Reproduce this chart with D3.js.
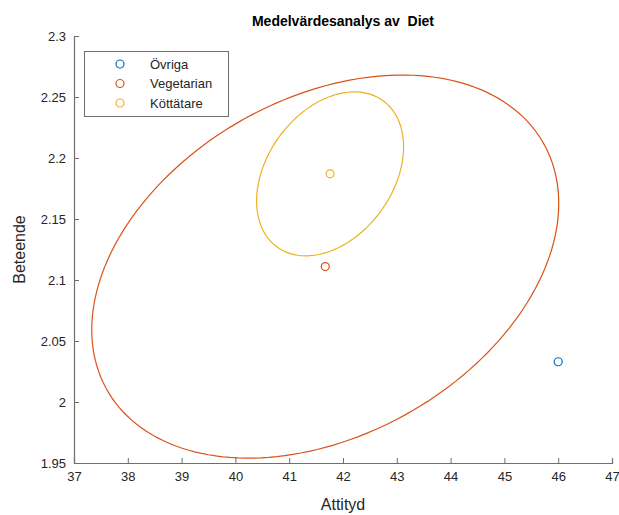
<!DOCTYPE html>
<html>
<head>
<meta charset="utf-8">
<script src="https://cdn.jsdelivr.net/npm/d3@7"></script>
<style>
body { margin: 0; background: #fff; }
text { font-family: "Liberation Sans", Arial, Helvetica, sans-serif; }
</style>
</head>
<body>
<svg id="chart" width="619" height="515"></svg>
<script>
// Data
const groups = ["Övriga", "Vegetarian", "Köttätare"];
const colors = ["#0072BD", "#D95319", "#EDB120"];
const meanAttityd = [46.0, 41.67, 41.76];
const meanBeteende = [2.033, 2.111, 2.187];
// ellipse half-extents (data units) and correlation-phase; null = no ellipse
const ellRx = [null, 4.34, 1.366];
const ellRy = [null, 0.157, 0.0672];
const ellRho = [null, 0.33, 0.33];
const xTicks = [37, 38, 39, 40, 41, 42, 43, 44, 45, 46, 47];
const yTicks = [1.95, 2, 2.05, 2.1, 2.15, 2.2, 2.25, 2.3];

const svg = d3.select("#chart");
const L = 74, R = 612, T = 36, B = 463;
const x = d3.scaleLinear().domain([37, 47]).range([L, R]);
const y = d3.scaleLinear().domain([1.95, 2.3]).range([B, T]);
const axisColor = "#6e6e6e";
const textColor = "#262626";

// axes
const gx = svg.append("g").attr("transform", `translate(0,${B})`)
  .call(d3.axisBottom(x).tickValues(xTicks).tickSize(-5).tickPadding(9).tickFormat(d3.format("d")));
const gy = svg.append("g").attr("transform", `translate(${L},0)`)
  .call(d3.axisLeft(y).tickValues(yTicks).tickSize(-5).tickPadding(8).tickFormat(d => String(+d.toFixed(2))));
[gx, gy].forEach(g => {
  g.select(".domain").attr("stroke", axisColor).attr("stroke-width", 1.2);
  g.selectAll(".tick line").attr("stroke", axisColor);
  g.selectAll(".tick text").attr("fill", textColor).style("font-size", "13px");
});

// ellipses
const ts = d3.range(0, 361, 2).map(d => d * Math.PI / 180);
groups.forEach((g, i) => {
  if (ellRx[i] == null) return;
  const phi = Math.asin(ellRho[i]);
  const pts = ts.map(t => [x(meanAttityd[i] + ellRx[i] * Math.cos(t)),
                           y(meanBeteende[i] + ellRy[i] * Math.sin(t + phi))]);
  svg.append("path").attr("d", d3.line()(pts) + "Z")
    .attr("fill", "none").attr("stroke", colors[i]).attr("stroke-width", 1.2);
});

// mean points
svg.selectAll("circle.mean").data(groups).enter().append("circle")
  .attr("class", "mean")
  .attr("cx", (d, i) => x(meanAttityd[i]))
  .attr("cy", (d, i) => y(meanBeteende[i]))
  .attr("r", 4)
  .attr("fill", "none")
  .attr("stroke", (d, i) => colors[i])
  .attr("stroke-width", 1.2);

// title & labels
svg.append("text").attr("x", (L + R) / 2).attr("y", 26)
  .attr("text-anchor", "middle").attr("fill", "#000")
  .style("font-size", "14px").style("font-weight", "bold").style("white-space", "pre")
  .text("Medelvärdesanalys av  Diet");
svg.append("text").attr("x", (L + R) / 2).attr("y", 510)
  .attr("text-anchor", "middle").attr("fill", textColor).style("font-size", "16px")
  .text("Attityd");
svg.append("text").attr("transform", `translate(25,${(T + B) / 2}) rotate(-90)`)
  .attr("text-anchor", "middle").attr("fill", textColor).style("font-size", "16px")
  .text("Beteende");

// legend
const lg = svg.append("g");
lg.append("rect").attr("x", 84.5).attr("y", 51.5).attr("width", 144).attr("height", 65)
  .attr("fill", "#fff").attr("stroke", axisColor).attr("stroke-width", 1);
groups.forEach((g, i) => {
  const yy = 64 + i * 19.5;
  lg.append("circle").attr("cx", 120).attr("cy", yy).attr("r", 4)
    .attr("fill", "none").attr("stroke", colors[i]).attr("stroke-width", 1.2);
  lg.append("text").attr("x", 150).attr("y", yy + 4.5)
    .attr("fill", textColor).style("font-size", "13px").text(g);
});
</script>
</body>
</html>
